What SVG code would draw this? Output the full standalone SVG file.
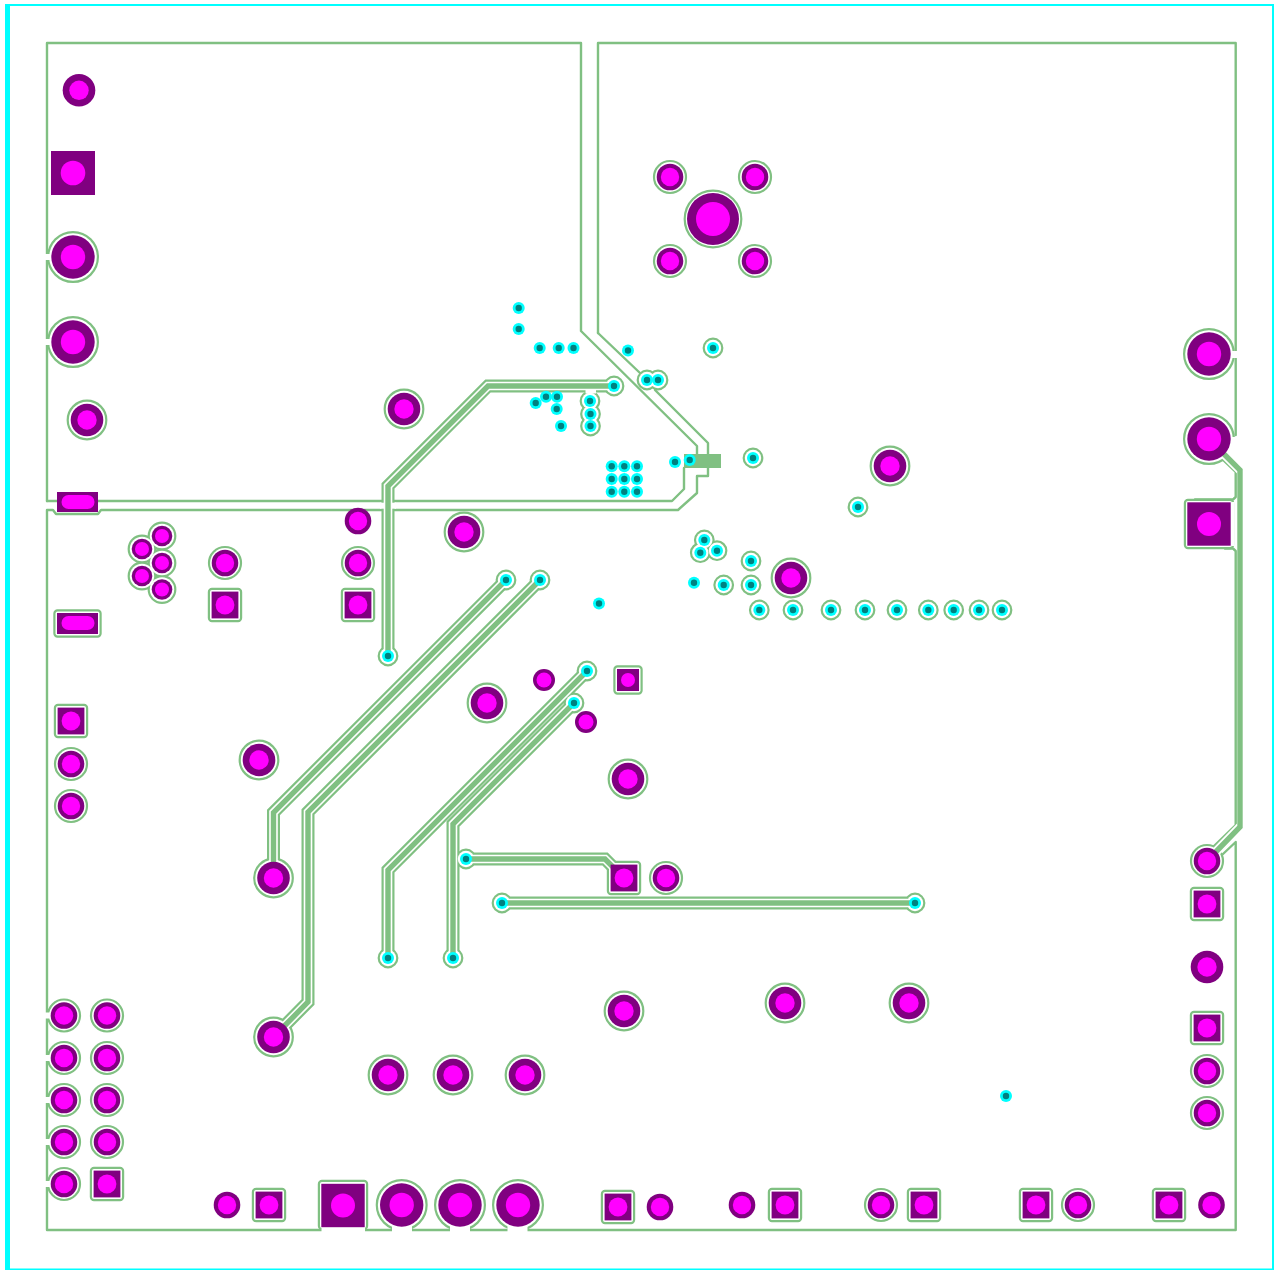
<svg xmlns="http://www.w3.org/2000/svg" width="1274" height="1270" viewBox="0 0 1274 1270">
<style>
.edge{fill:none;stroke:#80c082;stroke-width:2.4;stroke-linecap:round;stroke-linejoin:round}
.trk{fill:none;stroke-linejoin:miter}
.pur{fill:#800080}.mag{fill:#ff00ff}.cya{fill:#00ffff}.tea{fill:#008080}
</style>
<defs>
<g id="pS"><circle class="pur" r="13.3"/><circle class="mag" r="9.2"/></g>
<g id="pT"><circle class="pur" r="11"/><circle class="mag" r="7.5"/></g>
<g id="pM"><circle class="pur" r="16.3"/><circle class="mag" r="9.7"/></g>
<g id="pB"><circle class="pur" r="21.7"/><circle class="mag" r="12.2"/></g>
<g id="pH"><circle class="pur" r="26"/><circle class="mag" r="17"/></g>
<g id="pC"><circle class="pur" r="10.3"/><circle class="mag" r="7"/></g>
<g id="pV"><circle class="cya" r="6"/><circle class="tea" r="3.2"/></g>
<g id="sq"><rect class="pur" x="-13.400" y="-13.400" width="26.800" height="26.800"/><circle class="mag" r="9.400"/></g>
<g id="sqS"><rect class="pur" x="-11" y="-11" width="22" height="22"/><circle class="mag" r="7"/></g>
<g id="sqB"><rect class="pur" x="-21.700" y="-21.700" width="43.400" height="43.400"/><circle class="mag" r="12"/></g>
<g id="tracePaths" class="trk">
<polyline points="388,656 388,486 488,386 614,386"/>
<polyline points="506,580 273.500,812.500 273.500,878"/>
<polyline points="540,580 308,812 308,1002 273.500,1037"/>
<polyline points="587,671 388,870 388,958"/>
<polyline points="574,703 453,824 453,958"/>
<polyline points="466,859 605,859 624,878"/>
<polyline points="502,903 915,903"/>
</g>
<g id="clearance">
<circle cx="73" cy="257" r="23.800"/><circle cx="73" cy="342" r="23.800"/>
<circle cx="87" cy="420" r="18.200"/><circle cx="404" cy="409" r="18.200"/><circle cx="464" cy="532" r="18.200"/><circle cx="890" cy="466" r="18.200"/><circle cx="791" cy="578" r="18.200"/><circle cx="487" cy="703" r="18.200"/><circle cx="259" cy="760" r="18.200"/><circle cx="628" cy="779" r="18.200"/><circle cx="273.500" cy="878" r="18.200"/><circle cx="273.500" cy="1037" r="18.200"/><circle cx="624" cy="1011" r="18.200"/><circle cx="785" cy="1003" r="18.200"/><circle cx="909" cy="1003" r="18.200"/><circle cx="388" cy="1075" r="18.200"/><circle cx="453" cy="1075" r="18.200"/><circle cx="525" cy="1075" r="18.200"/>
<circle cx="225" cy="563" r="14.900"/><circle cx="358" cy="563" r="14.900"/><circle cx="71" cy="764" r="14.900"/><circle cx="71" cy="806" r="14.900"/><circle cx="670" cy="177" r="14.900"/><circle cx="755" cy="177" r="14.900"/><circle cx="670" cy="261" r="14.900"/><circle cx="755" cy="261" r="14.900"/><circle cx="666" cy="878" r="14.900"/><circle cx="1207" cy="861" r="14.900"/><circle cx="1207" cy="1071" r="14.900"/><circle cx="1207" cy="1113" r="14.900"/>
<circle cx="64" cy="1015.500" r="14.900"/><circle cx="107" cy="1015.500" r="14.900"/><circle cx="64" cy="1058" r="14.900"/><circle cx="107" cy="1058" r="14.900"/><circle cx="64" cy="1100" r="14.900"/><circle cx="107" cy="1100" r="14.900"/><circle cx="64" cy="1142" r="14.900"/><circle cx="107" cy="1142" r="14.900"/><circle cx="64" cy="1184" r="14.900"/><circle cx="881" cy="1205" r="14.900"/><circle cx="1078" cy="1205" r="14.900"/>
<circle cx="162" cy="536" r="12.200"/><circle cx="142" cy="549" r="12.200"/><circle cx="162" cy="563" r="12.200"/><circle cx="142" cy="576" r="12.200"/><circle cx="162" cy="589.500" r="12.200"/>
<circle cx="713" cy="219" r="27.200"/>
<circle cx="1209" cy="354" r="23.800"/><circle cx="1209" cy="439" r="23.800"/>
<circle cx="401.700" cy="1205" r="23.800"/><circle cx="460" cy="1205" r="23.800"/><circle cx="518" cy="1205" r="23.800"/>
<rect x="210" y="590" width="30" height="30" rx="2"/><rect x="343" y="590" width="30" height="30" rx="2"/><rect x="56" y="706" width="30" height="30" rx="2"/><rect x="615.500" y="667.500" width="25" height="25" rx="2"/><rect x="1192" y="889" width="30" height="30" rx="2"/><rect x="1192" y="1013" width="30" height="30" rx="2"/><rect x="254" y="1190" width="30" height="30" rx="2"/><rect x="603" y="1192" width="30" height="30" rx="2"/><rect x="770" y="1190" width="30" height="30" rx="2"/><rect x="909" y="1190" width="30" height="30" rx="2"/><rect x="1021" y="1190" width="30" height="30" rx="2"/><rect x="1154" y="1190" width="30" height="30" rx="2"/><rect x="92" y="1169" width="30" height="30" rx="2"/><rect x="609" y="863" width="30" height="30" rx="2"/>
<rect x="1186" y="501" width="46" height="46" rx="2"/><rect x="320" y="1182" width="46" height="46" rx="2"/>
<rect x="55.500" y="611.500" width="44" height="24" rx="2"/>
<circle cx="574" cy="703" r="8.200"/>
<circle cx="713" cy="348" r="8.200"/><circle cx="753" cy="458" r="8.200"/><circle cx="858" cy="507" r="8.200"/><circle cx="647" cy="380" r="8.200"/><circle cx="658" cy="380" r="8.200"/><circle cx="614" cy="386" r="8.200"/><circle cx="590" cy="401" r="8.200"/><circle cx="590.500" cy="414" r="8.200"/><circle cx="590.500" cy="426" r="8.200"/>
<circle cx="704.300" cy="540" r="8.200"/><circle cx="700.300" cy="552.700" r="8.200"/><circle cx="717" cy="550.700" r="8.200"/><circle cx="751" cy="561" r="8.200"/><circle cx="751" cy="585" r="8.200"/><circle cx="723.700" cy="585" r="8.200"/>
<circle cx="759.300" cy="610" r="8.200"/><circle cx="793" cy="610" r="8.200"/><circle cx="831" cy="610" r="8.200"/><circle cx="865" cy="610" r="8.200"/><circle cx="897" cy="610" r="8.200"/><circle cx="928.300" cy="610" r="8.200"/><circle cx="953.700" cy="610" r="8.200"/><circle cx="979" cy="610" r="8.200"/><circle cx="1002" cy="610" r="8.200"/>
<circle cx="388" cy="656" r="8.200"/><circle cx="506" cy="580" r="8.200"/><circle cx="540" cy="580" r="8.200"/><circle cx="587" cy="671" r="8.200"/><circle cx="466" cy="859" r="8.200"/><circle cx="502" cy="903" r="8.200"/><circle cx="915" cy="903" r="8.200"/><circle cx="388" cy="958" r="8.200"/><circle cx="453" cy="958" r="8.200"/>
</g>
</defs>
<rect width="1274" height="1270" fill="#ffffff"/>
<g id="frame" fill="#00ffff">
<rect x="5" y="4" width="1269" height="2"/><rect x="5" y="4" width="5" height="1266"/><rect x="1272" y="4" width="2" height="1266"/><rect x="5" y="1268.500" width="1269" height="1.500"/>
</g>
<g id="board-edge" class="edge">
<polyline points="47,501 47,43 581,43 581,331 697,446 697,454"/>
<polyline points="684,468 684,489 672,501 98,501"/>
<polyline points="47,501 58,501"/>
<polyline points="598,333 598,43 1235.700,43 1235.700,435"/>
<polyline points="598,333 640,373"/>
<polyline points="655,390 708,443 708,454"/>
<polyline points="708,468 708,476 697,476 697,493 678,510 101,510 98,514 56,514 53,510 47,510 47,1230 1235.700,1230 1235.700,842 1223,854"/>
<polyline points="1222,459 1235.700,472 1235.700,497 1233,499.500 1195,499.500"/>
<polyline points="1225,548.500 1233,548.500 1235.700,551 1235.700,825 1213,847"/>
</g>
<g id="clearance-outer" fill="#80c082" stroke="#80c082">
<use href="#tracePaths" stroke-width="13"/>
<use href="#clearance" stroke-width="4.400" stroke-linejoin="round"/>
</g>
<g id="clearance-inner" fill="#ffffff" stroke="#ffffff">
<use href="#tracePaths" stroke-width="8.600"/>
<use href="#clearance" stroke-width="0"/>
<polyline points="1209,439 1240,470" fill="none" stroke-width="9"/>
<polyline points="1240,827 1207,861" fill="none" stroke-width="9"/>
<g stroke="none">
<rect x="45" y="254" width="5.500" height="6"/><rect x="45" y="339" width="5.500" height="6"/>
<rect x="45" y="1012.500" width="5.500" height="6"/><rect x="45" y="1055" width="5.500" height="6"/><rect x="45" y="1097" width="5.500" height="6"/><rect x="45" y="1139" width="5.500" height="6"/><rect x="45" y="1181" width="5.500" height="6"/>
<rect x="1232" y="351" width="6" height="7"/>
<polygon points="1226,437 1238,437 1238,464 1229,456"/>
<rect x="1231.500" y="502" width="3.100" height="44"/>
<rect x="321.500" y="1226" width="43.500" height="6"/>
<rect x="392" y="1226" width="20" height="6"/><rect x="450" y="1226" width="20" height="6"/><rect x="507.500" y="1226" width="20" height="6"/>
<rect x="585.500" y="390" width="10.500" height="3.500"/>
<rect x="380" y="502.700" width="16" height="6"/>
</g>
</g>
<g id="tracks" stroke="#80c082">
<use href="#tracePaths" stroke-width="5.400"/>
<polyline points="1209,439 1240,470 1240,827 1207,861" fill="none" stroke-width="5.400"/>
<rect x="684" y="454" width="37" height="14" fill="#80c082" stroke="none"/>
</g>
<g id="pads">
<use href="#pM" x="79" y="90.300"/>
<rect class="pur" x="51" y="151" width="44" height="44"/><circle class="mag" cx="73" cy="173" r="12.300"/>
<use href="#pB" x="73" y="257"/><use href="#pB" x="73" y="342"/>
<use href="#pM" x="87" y="420"/><use href="#pM" x="404" y="409"/><use href="#pM" x="464" y="532"/><use href="#pM" x="890" y="466"/><use href="#pM" x="791" y="578"/><use href="#pM" x="487" y="703"/><use href="#pM" x="259" y="760"/><use href="#pM" x="628" y="779"/><use href="#pM" x="273.500" y="878"/><use href="#pM" x="273.500" y="1037"/><use href="#pM" x="624" y="1011"/><use href="#pM" x="785" y="1003"/><use href="#pM" x="909" y="1003"/><use href="#pM" x="388" y="1075"/><use href="#pM" x="453" y="1075"/><use href="#pM" x="525" y="1075"/><use href="#pM" x="1207" y="967"/>
<use href="#pS" x="225" y="563"/><use href="#pS" x="358" y="563"/><use href="#pS" x="71" y="764"/><use href="#pS" x="71" y="806"/><use href="#pS" x="670" y="177"/><use href="#pS" x="755" y="177"/><use href="#pS" x="670" y="261"/><use href="#pS" x="755" y="261"/><use href="#pS" x="666" y="878"/><use href="#pS" x="1207" y="861"/><use href="#pS" x="1207" y="1071"/><use href="#pS" x="1207" y="1113"/>
<use href="#pS" x="64" y="1015.500"/><use href="#pS" x="107" y="1015.500"/><use href="#pS" x="64" y="1058"/><use href="#pS" x="107" y="1058"/><use href="#pS" x="64" y="1100"/><use href="#pS" x="107" y="1100"/><use href="#pS" x="64" y="1142"/><use href="#pS" x="107" y="1142"/><use href="#pS" x="64" y="1184"/><use href="#pS" x="881" y="1205"/><use href="#pS" x="1078" y="1205"/>
<use href="#pS" x="358" y="521"/><use href="#pT" x="544" y="680"/><use href="#pT" x="586" y="722"/><use href="#pS" x="227" y="1205"/><use href="#pS" x="660" y="1207"/><use href="#pS" x="742" y="1205"/><use href="#pS" x="1211.500" y="1205"/>
<use href="#pC" x="162" y="536"/><use href="#pC" x="142" y="549"/><use href="#pC" x="162" y="563"/><use href="#pC" x="142" y="576"/><use href="#pC" x="162" y="589.500"/>
<use href="#pH" x="713" y="219"/>
<use href="#pB" x="1209" y="354"/><use href="#pB" x="1209" y="439"/>
<use href="#pB" x="401.700" y="1205"/><use href="#pB" x="460" y="1205"/><use href="#pB" x="518" y="1205"/>
<use href="#sq" x="225" y="605"/><use href="#sq" x="358" y="605"/><use href="#sq" x="71" y="721"/><use href="#sqS" x="628" y="680"/><use href="#sq" x="1207" y="904"/><use href="#sq" x="1207" y="1028"/><use href="#sq" x="269" y="1205"/><use href="#sq" x="618" y="1207"/><use href="#sq" x="785" y="1205"/><use href="#sq" x="924" y="1205"/><use href="#sq" x="1036" y="1205"/><use href="#sq" x="1169" y="1205"/><use href="#sq" x="107" y="1184"/><use href="#sq" x="624" y="878"/>
<use href="#sqB" x="1209" y="524"/><use href="#sqB" x="343" y="1205.500"/>
<rect class="pur" x="57" y="492" width="41" height="20"/><rect class="mag" x="61.500" y="495" width="33" height="14" rx="7"/>
<rect class="pur" x="57" y="613" width="41" height="21"/><rect class="mag" x="61.500" y="616" width="33" height="14" rx="7"/>
</g>
<g id="vias">
<use href="#pV" x="518.700" y="308"/><use href="#pV" x="518.700" y="329"/><use href="#pV" x="539.700" y="348"/><use href="#pV" x="558.700" y="348"/><use href="#pV" x="573.500" y="348"/><use href="#pV" x="628" y="350.500"/><use href="#pV" x="546" y="396.700"/><use href="#pV" x="557" y="396.700"/><use href="#pV" x="535.700" y="403"/><use href="#pV" x="556.700" y="409"/><use href="#pV" x="561" y="426"/>
<use href="#pV" x="611.700" y="466.300"/><use href="#pV" x="624.300" y="466.300"/><use href="#pV" x="637" y="466.300"/><use href="#pV" x="611.700" y="479"/><use href="#pV" x="624.300" y="479"/><use href="#pV" x="637" y="479"/><use href="#pV" x="611.700" y="491.700"/><use href="#pV" x="624.300" y="491.700"/><use href="#pV" x="637" y="491.700"/>
<use href="#pV" x="675" y="462"/><use href="#pV" x="689.700" y="460"/><use href="#pV" x="694" y="582.700"/><use href="#pV" x="599" y="603.500"/><use href="#pV" x="1006" y="1096"/>
<use href="#pV" x="574" y="703"/><use href="#pV" x="713" y="348"/><use href="#pV" x="753" y="458"/><use href="#pV" x="858" y="507"/><use href="#pV" x="647" y="380"/><use href="#pV" x="658" y="380"/><use href="#pV" x="614" y="386"/><use href="#pV" x="590" y="401"/><use href="#pV" x="590.500" y="414"/><use href="#pV" x="590.500" y="426"/>
<use href="#pV" x="704.300" y="540"/><use href="#pV" x="700.300" y="552.700"/><use href="#pV" x="717" y="550.700"/><use href="#pV" x="751" y="561"/><use href="#pV" x="751" y="585"/><use href="#pV" x="723.700" y="585"/>
<use href="#pV" x="759.300" y="610"/><use href="#pV" x="793" y="610"/><use href="#pV" x="831" y="610"/><use href="#pV" x="865" y="610"/><use href="#pV" x="897" y="610"/><use href="#pV" x="928.300" y="610"/><use href="#pV" x="953.700" y="610"/><use href="#pV" x="979" y="610"/><use href="#pV" x="1002" y="610"/>
<use href="#pV" x="388" y="656"/><use href="#pV" x="506" y="580"/><use href="#pV" x="540" y="580"/><use href="#pV" x="587" y="671"/><use href="#pV" x="466" y="859"/><use href="#pV" x="502" y="903"/><use href="#pV" x="915" y="903"/><use href="#pV" x="388" y="958"/><use href="#pV" x="453" y="958"/>
</g>
</svg>
